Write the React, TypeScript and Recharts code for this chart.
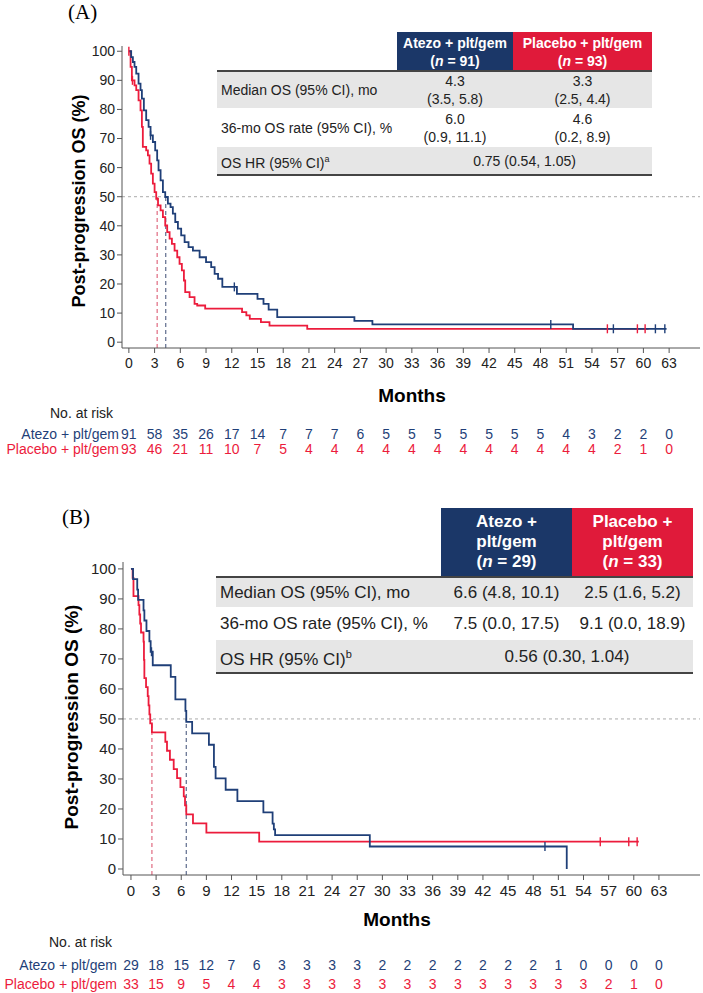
import React from 'react';
import { ComposedChart, Line, XAxis, YAxis, ReferenceLine } from 'recharts';

const FONT = '"Liberation Sans", Arial, Helvetica, sans-serif';
const BLUE = '#1f3f78';
const RED = '#ec1c3c';
const HEAD_BLUE = '#1b3768';
const HEAD_RED = '#e01a3a';
const GRAY_ROW = '#e6e6e6';

const MONTH_TICKS = [0, 3, 6, 9, 12, 15, 18, 21, 24, 27, 30, 33, 36, 39, 42, 45, 48, 51, 54, 57, 60, 63];
const PCT_TICKS = [0, 10, 20, 30, 40, 50, 60, 70, 80, 90, 100];

// (A) all patients - [month, survival %]
const atezoA = [
  [0, 100], [0.27, 98], [0.47, 96.3], [0.66, 94.6], [0.86, 92.3], [1.13, 88.9], [1.36, 86.6],
  [1.52, 83.7], [1.75, 79.7], [2.02, 76.3], [2.3, 74.0], [2.53, 71.1], [2.8, 68.8], [3.07, 65.9],
  [3.3, 62.5], [3.46, 59.1], [3.7, 55.6], [3.97, 51.6], [4.24, 49.9], [4.55, 47.6], [4.86, 46.4],
  [5.13, 44.2], [5.41, 41.3], [5.72, 39.0], [6.1, 36.7], [6.5, 34.4], [6.96, 32.7], [7.47, 31.5],
  [8.25, 29.2], [9.0, 27.5], [9.6, 25.8], [10.0, 23.5], [10.4, 21.8], [10.9, 19.0], [12.6, 16.6],
  [15.0, 14.9], [15.7, 13.2], [16.3, 11.2], [17.3, 8.6], [26.3, 7.3], [28.4, 6.1], [51.8, 4.6], [62.7, 4.6],
];
const atezoCensA = [2.53, 12.3, 49.2, 56.5, 61.4, 62.5];
const placeboA = [
  [0, 100], [0.2, 94.6], [0.35, 90.0], [0.66, 88.3], [0.86, 86.6], [1.13, 83.1], [1.36, 79.7],
  [1.52, 74.0], [1.63, 67.1], [2.02, 65.9], [2.22, 64.2], [2.41, 61.4], [2.6, 57.9], [2.8, 54.5],
  [3.0, 51.6], [3.19, 49.3], [3.4, 47.0], [3.7, 45.3], [3.97, 43.0], [4.24, 40.1], [4.47, 37.8],
  [4.75, 35.6], [5.02, 33.8], [5.33, 31.5], [5.64, 29.2], [5.91, 26.9], [6.18, 24.7], [6.42, 21.2],
  [6.57, 17.2], [7.08, 15.5], [7.66, 13.2], [7.97, 12.6], [8.9, 11.5], [13.2, 10.3], [13.7, 9.2],
  [14.1, 8.0], [15.4, 6.9], [16.4, 5.7], [20.8, 4.6], [60.6, 4.6],
];
const placeboCensA = [0, 0.42, 55.8, 59.3, 60.2];
const riskAtezoA = [91, 58, 35, 26, 17, 14, 7, 7, 7, 6, 5, 5, 5, 5, 5, 5, 5, 4, 3, 2, 2, 0];
const riskPlaceboA = [93, 46, 21, 11, 10, 7, 5, 4, 4, 4, 4, 4, 4, 4, 4, 4, 4, 4, 4, 2, 1, 0];
const mediansA = { atezo: 4.3, placebo: 3.3 };

// (B) subgroup
const atezoB = [
  [0, 100], [0.25, 96.6], [0.75, 93.1], [0.85, 89.7], [1.5, 86.2], [1.6, 82.8], [1.85, 79.3],
  [2.2, 75.9], [2.35, 72.4], [2.6, 67.9], [4.75, 64.0], [5.3, 56.5], [6.5, 52.7], [6.6, 49.0],
  [7.3, 45.2], [9.3, 41.4], [9.9, 34.0], [10.1, 30.2], [11.3, 26.4], [12.7, 22.6], [15.8, 18.9],
  [16.9, 15.1], [17.05, 13.2], [17.2, 11.3], [28.5, 7.5], [52.0, 0],
];
const atezoCensB = [2.45, 49.4];
const placeboB = [
  [0, 100], [0.2, 97.0], [0.3, 90.9], [0.9, 87.9], [1.0, 84.8], [1.1, 81.8], [1.2, 78.8],
  [1.5, 75.8], [1.55, 69.7], [1.6, 63.6], [1.8, 60.6], [2.0, 57.6], [2.1, 54.5], [2.2, 51.5],
  [2.3, 48.5], [2.5, 45.5], [4.1, 42.4], [4.3, 39.4], [4.65, 36.4], [5.1, 33.3], [5.5, 30.3],
  [5.9, 27.3], [6.3, 24.2], [6.45, 21.2], [6.6, 18.2], [7.4, 15.2], [9.0, 12.1], [15.3, 9.1], [60.6, 9.1],
];
const placeboCensB = [56.0, 59.4, 60.4];
const riskAtezoB = [29, 18, 15, 12, 7, 6, 3, 3, 3, 3, 2, 2, 2, 2, 2, 2, 2, 1, 0, 0, 0, 0];
const riskPlaceboB = [33, 15, 9, 5, 4, 4, 3, 3, 3, 3, 3, 3, 3, 3, 3, 3, 3, 3, 3, 2, 1, 0];
const mediansB = { atezo: 6.6, placebo: 2.5 };

function withCensors(steps: number[][], censors: number[]) {
  const pts = steps.map(([t, s]) => ({ t, s, c: false }));
  censors.forEach((tc) => {
    let s = steps[0][1];
    steps.forEach(([t, v]) => { if (t <= tc) s = v; });
    pts.push({ t: tc, s, c: true });
  });
  return pts.sort((a, b) => a.t - b.t);
}

const censorDot = (color: string) => (p: any) =>
  p.payload && p.payload.c
    ? <line key={'c' + p.index} x1={p.cx} x2={p.cx} y1={p.cy - 4.5} y2={p.cy + 4.5} stroke={color} strokeWidth={1.4} />
    : <g key={'n' + p.index} />;

type PanelProps = {
  top: number; height: number; plotTop: number; plotBottom: number; plotLeft: number;
  xDomain: number[]; yDomain: number[]; fontSize: number;
  atezo: number[][]; atezoCens: number[]; placebo: number[][]; placeboCens: number[];
  medians: { atezo: number; placebo: number };
};

function KMPanel(p: PanelProps) {
  const yAxisW = 40;
  const xAxisH = 26;
  const tick = { fontSize: p.fontSize, fill: '#222', fontFamily: FONT };
  return (
    <div style={{ position: 'absolute', left: 0, top: p.top }}>
      <ComposedChart
        width={703}
        height={p.height}
        margin={{ top: p.plotTop, right: 3, left: p.plotLeft - yAxisW, bottom: p.height - p.plotBottom - xAxisH }}
      >
        <XAxis type="number" dataKey="t" domain={p.xDomain} ticks={MONTH_TICKS} interval={0} allowDataOverflow
          height={xAxisH} tick={tick} tickSize={5} stroke="#555" tickMargin={5} />
        <YAxis type="number" dataKey="s" domain={p.yDomain} ticks={PCT_TICKS} interval={0} allowDataOverflow
          width={yAxisW} tick={tick} tickSize={5} stroke="#555" tickMargin={2} />
        <ReferenceLine y={50} stroke="#aaaaaa" strokeDasharray="3 3" strokeWidth={1} />
        <ReferenceLine segment={[{ x: p.medians.placebo, y: p.yDomain[0] }, { x: p.medians.placebo, y: 50 }]}
          stroke="#e06a80" strokeDasharray="4 3" strokeWidth={1.2} />
        <ReferenceLine segment={[{ x: p.medians.atezo, y: p.yDomain[0] }, { x: p.medians.atezo, y: 50 }]}
          stroke="#5d6b8c" strokeDasharray="4 3" strokeWidth={1.2} />
        <Line data={withCensors(p.placebo, p.placeboCens)} dataKey="s" type="stepAfter" stroke={RED}
          strokeWidth={1.8} dot={censorDot(RED)} activeDot={false} isAnimationActive={false} />
        <Line data={withCensors(p.atezo, p.atezoCens)} dataKey="s" type="stepAfter" stroke={BLUE}
          strokeWidth={1.8} dot={censorDot(BLUE)} activeDot={false} isAnimationActive={false} />
      </ComposedChart>
    </div>
  );
}

function Box(props: { x: number; y: number; w: number; h: number; bg?: string; color?: string; bold?: boolean;
  size: number; lh?: number; align?: string; children: React.ReactNode }) {
  return (
    <div style={{
      position: 'absolute', left: props.x, top: props.y, width: props.w, height: props.h,
      background: props.bg || 'transparent', color: props.color || '#222', fontWeight: props.bold ? 700 : 400,
      fontSize: props.size, lineHeight: (props.lh || props.size + 4) + 'px', fontFamily: FONT,
      display: 'flex', flexDirection: 'column', justifyContent: 'center',
      alignItems: props.align === 'left' ? 'flex-start' : 'center', textAlign: props.align === 'left' ? 'left' : 'center',
      paddingLeft: props.align === 'left' ? 4 : 0, boxSizing: 'border-box', whiteSpace: 'nowrap',
    }}>{props.children}</div>
  );
}

function HLine({ x, y, w }: { x: number; y: number; w: number }) {
  return <div style={{ position: 'absolute', left: x, top: y - 1, width: w, height: 2, background: '#444' }} />;
}

function RiskTable(props: { xs: number[]; titleX: number; labelRight: number; yTitle: number; yA: number; yP: number;
  atezo: number[]; placebo: number[]; size: number }) {
  const txt = (x: number, y: number, s: React.ReactNode, color: string, anchor: string, key: string) => (
    <div key={key} style={{
      position: 'absolute', left: x, top: y - props.size / 2 - 2, fontSize: props.size, fontFamily: FONT,
      color, whiteSpace: 'nowrap', lineHeight: (props.size + 4) + 'px',
      transform: anchor === 'middle' ? 'translateX(-50%)' : anchor === 'end' ? 'translateX(-100%)' : 'none',
    }}>{s}</div>
  );
  return (
    <>
      {txt(props.titleX, props.yTitle, 'No. at risk', '#222', 'start', 'title')}
      {txt(props.labelRight, props.yA, 'Atezo + plt/gem', BLUE, 'end', 'la')}
      {txt(props.labelRight, props.yP, 'Placebo + plt/gem', RED, 'end', 'lp')}
      {props.xs.map((x, i) => txt(x, props.yA, props.atezo[i], BLUE, 'middle', 'a' + i))}
      {props.xs.map((x, i) => txt(x, props.yP, props.placebo[i], RED, 'middle', 'p' + i))}
    </>
  );
}

const xPx = (t: number, left: number, right: number, dom: number[]) => left + ((t - dom[0]) / (dom[1] - dom[0])) * (right - left);

export default function App() {
  const domA = [-0.8, 66.6];
  const domB = [-0.95, 67.9];
  const xsA = MONTH_TICKS.map((t) => xPx(t, 122, 700, domA));
  const xsB = MONTH_TICKS.map((t) => xPx(t, 123, 700, domB));
  const serif = '"Liberation Serif", "Times New Roman", serif';
  return (
    <div style={{ position: 'absolute', left: 0, top: 0, width: 703, height: 993, background: '#fff', overflow: 'hidden' }}>
      {/* Panel A */}
      <div style={{ position: 'absolute', left: 68, top: 0, fontFamily: serif, fontSize: 21, lineHeight: '24px' }}>(A)</div>
      <KMPanel top={0} height={380} plotTop={46} plotBottom={348} plotLeft={122} xDomain={domA} yDomain={[-2, 101.8]}
        fontSize={14} atezo={atezoA} atezoCens={atezoCensA} placebo={placeboA} placeboCens={placeboCensA} medians={mediansA} />
      <div style={{ position: 'absolute', left: 79, top: 201, transform: 'translate(-50%, -50%) rotate(-90deg)',
        fontFamily: FONT, fontWeight: 700, fontSize: 18, whiteSpace: 'nowrap' }}>Post-progression OS (%)</div>
      <div style={{ position: 'absolute', left: 412, top: 396, transform: 'translate(-50%, -50%)',
        fontFamily: FONT, fontWeight: 700, fontSize: 19 }}>Months</div>
      <RiskTable xs={xsA} titleX={50} labelRight={119} yTitle={413} yA={434} yP={449} atezo={riskAtezoA} placebo={riskPlaceboA} size={14} />

      <Box x={397} y={32} w={116} h={39} bg={HEAD_BLUE} color="#fff" bold size={14} lh={18}>
        <span>Atezo + plt/gem</span><span>(<i>n</i> = 91)</span>
      </Box>
      <Box x={513} y={32} w={139} h={39} bg={HEAD_RED} color="#fff" bold size={14} lh={18}>
        <span>Placebo + plt/gem</span><span>(<i>n</i> = 93)</span>
      </Box>
      <Box x={217} y={71} w={435} h={37} bg={GRAY_ROW} size={14} align="left">Median OS (95% CI), mo</Box>
      <Box x={397} y={71} w={116} h={37} size={14} lh={18}><span>4.3</span><span>(3.5, 5.8)</span></Box>
      <Box x={513} y={71} w={139} h={37} size={14} lh={18}><span>3.3</span><span>(2.5, 4.4)</span></Box>
      <Box x={217} y={108} w={180} h={39} size={14} align="left">36-mo OS rate (95% CI), %</Box>
      <Box x={397} y={108} w={116} h={39} size={14} lh={18}><span>6.0</span><span>(0.9, 11.1)</span></Box>
      <Box x={513} y={108} w={139} h={39} size={14} lh={18}><span>4.6</span><span>(0.2, 8.9)</span></Box>
      <Box x={217} y={147} w={435} h={28} bg={GRAY_ROW} size={14} align="left">
        <span>OS HR (95% CI)<sup style={{ fontSize: 9 }}>a</sup></span>
      </Box>
      <Box x={397} y={147} w={255} h={28} size={14}>0.75 (0.54, 1.05)</Box>
      <HLine x={217} y={71} w={435} />
      <HLine x={217} y={175} w={435} />

      {/* Panel B */}
      <div style={{ position: 'absolute', left: 62, top: 505, fontFamily: serif, fontSize: 21, lineHeight: '24px' }}>(B)</div>
      <KMPanel top={500} height={400} plotTop={62} plotBottom={375} plotLeft={123} xDomain={domB} yDomain={[-2, 102.3]}
        fontSize={15} atezo={atezoB} atezoCens={atezoCensB} placebo={placeboB} placeboCens={placeboCensB} medians={mediansB} />
      <div style={{ position: 'absolute', left: 72, top: 717, transform: 'translate(-50%, -50%) rotate(-90deg)',
        fontFamily: FONT, fontWeight: 700, fontSize: 19, whiteSpace: 'nowrap' }}>Post-progression OS (%)</div>
      <div style={{ position: 'absolute', left: 397, top: 920, transform: 'translate(-50%, -50%)',
        fontFamily: FONT, fontWeight: 700, fontSize: 19 }}>Months</div>
      <RiskTable xs={xsB} titleX={49} labelRight={117} yTitle={942} yA={965} yP={984} atezo={riskAtezoB} placebo={riskPlaceboB} size={14} />

      <Box x={441} y={508} w={131} h={68} bg={HEAD_BLUE} color="#fff" bold size={17} lh={20}>
        <span>Atezo +</span><span>plt/gem</span><span>(<i>n</i> = 29)</span>
      </Box>
      <Box x={572} y={508} w={121} h={68} bg={HEAD_RED} color="#fff" bold size={17} lh={20}>
        <span>Placebo +</span><span>plt/gem</span><span>(<i>n</i> = 33)</span>
      </Box>
      <Box x={216} y={577} w={477} h={30} bg={GRAY_ROW} size={17} align="left">Median OS (95% CI), mo</Box>
      <Box x={441} y={577} w={131} h={30} size={17}>6.6 (4.8, 10.1)</Box>
      <Box x={572} y={577} w={121} h={30} size={17}>2.5 (1.6, 5.2)</Box>
      <Box x={216} y={607} w={225} h={33} size={17} align="left">36-mo OS rate (95% CI), %</Box>
      <Box x={441} y={607} w={131} h={33} size={17}>7.5 (0.0, 17.5)</Box>
      <Box x={572} y={607} w={121} h={33} size={17}>9.1 (0.0, 18.9)</Box>
      <Box x={216} y={640} w={477} h={33} bg={GRAY_ROW} size={17} align="left">
        <span>OS HR (95% CI)<sup style={{ fontSize: 11 }}>b</sup></span>
      </Box>
      <Box x={441} y={640} w={252} h={33} size={17}>0.56 (0.30, 1.04)</Box>
      <HLine x={216} y={577} w={477} />
      <HLine x={216} y={673} w={477} />
    </div>
  );
}
